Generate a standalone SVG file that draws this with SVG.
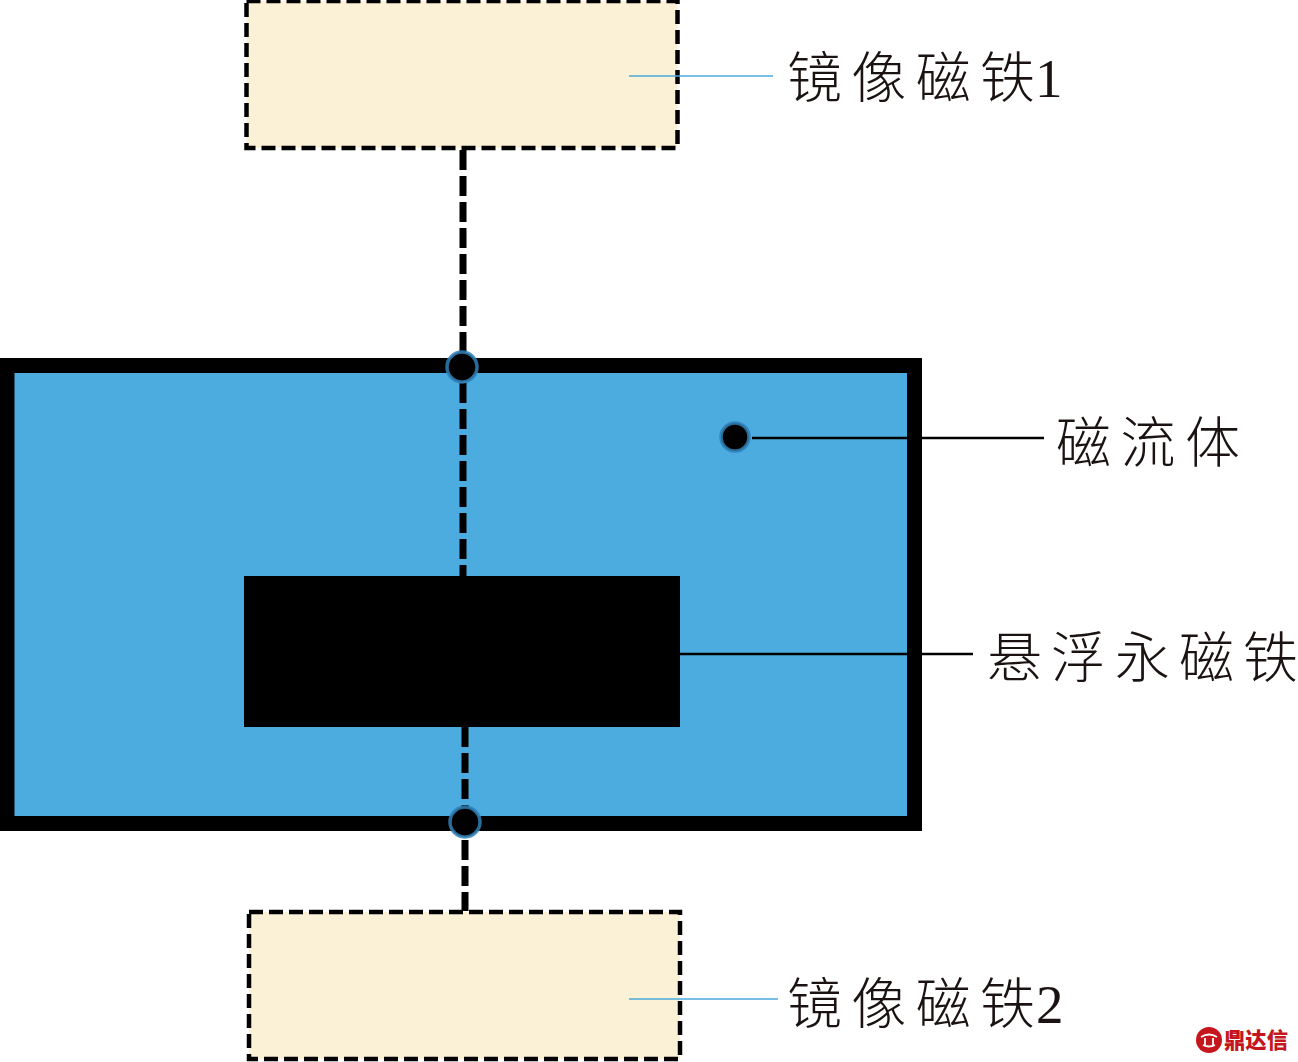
<svg xmlns="http://www.w3.org/2000/svg" width="1298" height="1062" viewBox="0 0 1298 1062">
<style>
.mirror{fill:#fbf1d7;stroke:#000;stroke-width:4.500;stroke-dasharray:14 6}
.axis{fill:none;stroke:#000;stroke-width:7;stroke-dasharray:20 6}
.lead{fill:none;stroke:#000;stroke-width:2.500}
.leadb{fill:none;stroke:#4ba9dc;stroke-width:1.600}
.dot{fill:#000;stroke:#2f7fb5;stroke-width:3.500;stroke-opacity:.85}
.lbl{font-family:"Noto Sans CJK SC","Liberation Serif",serif;font-weight:300;font-size:55px;fill:#1a1311}
.num{font-family:"Liberation Serif",serif;font-size:55px;fill:#1a1311}
.logo{font-family:"Noto Sans CJK SC",sans-serif;font-weight:900;font-size:22px;fill:#c5161d}
</style>
<rect width="1298" height="1062" fill="#fff"/>
<g id="fluid"><rect x="7" y="365.500" width="907.500" height="458" fill="#4cabdf" stroke="#000" stroke-width="15"/></g>
<g id="mirror1"><rect class="mirror" x="246.500" y="1" width="431" height="147"/>
<text class="lbl" x="787" y="97" textLength="248" lengthAdjust="spacing">镜像磁铁</text><text class="num" x="1035" y="97">1</text></g>
<g id="mirror2"><rect class="mirror" x="249" y="912" width="431" height="147"/>
<text class="lbl" x="787" y="1023" textLength="248" lengthAdjust="spacing">镜像磁铁</text><text class="num" x="1036" y="1023">2</text></g>
<g id="magnet"><rect x="244" y="576" width="436" height="151" fill="#000"/>
<text class="lbl" x="987" y="677" textLength="311" lengthAdjust="spacing">悬浮永磁铁</text></g>
<g id="fluid-label"><text class="lbl" x="1056" y="462" textLength="184" lengthAdjust="spacing">磁流体</text></g>
<g id="connectors">
<path class="axis" d="M463 150V365"/>
<path class="axis" d="M463 383V576"/>
<path class="axis" d="M465 727V822"/>
<path class="axis" d="M465 840V911"/>
<path class="leadb" d="M629 76H773"/>
<path class="leadb" d="M629 999H778"/>
<path class="lead" d="M752 438H1044"/>
<path class="lead" d="M680 654H973"/>
</g>
<g id="dot-fluid"><circle class="dot" cx="735" cy="437" r="14"/></g>
<g id="pivot-top"><circle class="dot" cx="462" cy="367" r="15"/></g>
<g id="pivot-bottom"><circle class="dot" cx="465" cy="822" r="15"/></g>
<g id="watermark">
<circle cx="1209" cy="1040" r="13" fill="#c5161d"/>
<path d="M1201 1037q8-5 16 0M1205 1038v8M1213 1038v8M1203 1045q6 3 12 0" fill="none" stroke="#fff" stroke-width="1.800"/>
<text class="logo" x="1224" y="1048" textLength="64" lengthAdjust="spacingAndGlyphs">鼎达信</text>
</g>
</svg>
